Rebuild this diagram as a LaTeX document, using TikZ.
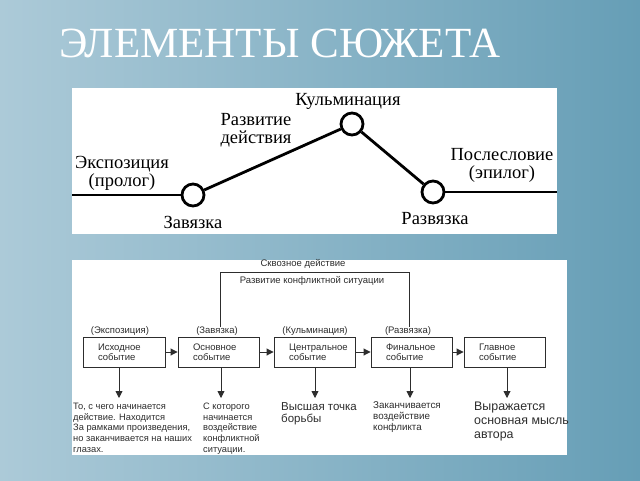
\documentclass[tikz,border=0pt]{standalone}
\usepackage{fontspec}
\setmainfont{Liberation Serif}
\newfontfamily\arialf{Liberation Sans}
\usetikzlibrary{arrows.meta}
\definecolor{bgL}{RGB}{172,202,216}
\definecolor{bgR}{RGB}{102,158,182}
\definecolor{ink}{RGB}{45,45,45}
\begin{document}
\begin{tikzpicture}[x=1pt,y=-1pt,
  plotline/.style={line width=2.8pt,black},
  knot/.style={circle,draw=black,fill=white,line width=2.8pt,minimum size=22pt,inner sep=0pt},
  toplbl/.style={font=\fontsize{18.5}{18}\selectfont,inner sep=0pt,align=center},
  evbox/.style={draw=ink,line width=0.9pt,minimum height=30pt,inner sep=0pt,text=ink,
     font=\arialf\fontsize{9.5}{10}\selectfont,align=left},
  small/.style={text=ink,font=\arialf\fontsize{9.5}{10}\selectfont,inner sep=0pt},
  conn/.style={draw=ink,line width=0.9pt},
  arr/.style={conn,-{Triangle[length=7pt,width=7pt]}},
  desc/.style={text=ink,inner sep=0pt,anchor=north west,align=left}
]
\useasboundingbox (0,0) rectangle (640,480);
\shade[left color=bgL,right color=bgR] (0,0) rectangle (640,480);
\node[text=white,anchor=base west,inner sep=0pt,font=\fontsize{43}{43}\selectfont] (title) at (59,57) {ЭЛЕМЕНТЫ СЮЖЕТА};

% ---------- top panel
\fill[white] (72,88) rectangle (557,234);
\node[knot] (zav) at (193,195) {};
\node[knot] (kul) at (352,124) {};
\node[knot] (raz) at (433,192) {};
\coordinate (pl) at (72,195);
\coordinate (pr) at (557,192);
\draw[plotline] (pl) -- (zav);
\draw[plotline] (zav) -- (kul);
\draw[plotline] (kul) -- (raz);
\draw[plotline] (raz) -- (pr);
\node[toplbl] (lexp) at (122,173) {Экспозиция\\(пролог)};
\node[toplbl] (lrazv) at (256,130) {Развитие\\действия};
\node[toplbl] (lkul) at (348,101) {Кульминация};
\node[toplbl] (lzav) at (193,222) {Завязка};
\node[toplbl] (lraz) at (435,219) {Развязка};
\node[toplbl] (lpos) at (502,165) {Послесловие\\(эпилог)};

% ---------- bottom panel
\fill[white] (72,260) rectangle (567,455);
\node[evbox,minimum width=82pt,text width=52pt] (b1) at (124,352) {Исходное\\событие};
\node[evbox,minimum width=81pt,text width=51pt] (b2) at (218.5,352) {Основное\\событие};
\node[evbox,minimum width=81pt,text width=51pt] (b3) at (314.5,352) {Центральное\\событие};
\node[evbox,minimum width=81pt,text width=51pt] (b4) at (411.5,352) {Финальное\\событие};
\node[evbox,minimum width=81pt,text width=51pt] (b5) at (504.5,352) {Главное\\событие};
\draw[arr] (b1) -- (b2);
\draw[arr] (b2) -- (b3);
\draw[arr] (b3) -- (b4);
\draw[arr] (b4) -- (b5);

\node[small] (e1) at (120,331) {(Экспозиция)};
\node[small] (e2) at (217,331) {(Завязка)};
\node[small] (e3) at (315,331) {(Кульминация)};
\node[small] (e4) at (408,331) {(Развязка)};

\coordinate (c1) at (220,327);
\coordinate (c2) at (220,272);
\coordinate (c3) at (409,272);
\coordinate (c4) at (409,327);
\draw[conn] (c1) -- (c2) -- (c3) -- (c4);
\node[small] (skv) at (303,264) {Сквозное действие};
\node[small] (razk) at (312,281) {Развитие конфликтной ситуации};

\coordinate (d1) at (119,398);
\coordinate (d2) at (221,398);
\coordinate (d3) at (315,398);
\coordinate (d4) at (410,398);
\coordinate (d5) at (507,398);
\draw[arr] (b1.south -| d1) -- (d1);
\draw[arr] (b2.south -| d2) -- (d2);
\draw[arr] (b3.south -| d3) -- (d3);
\draw[arr] (b4.south -| d4) -- (d4);
\draw[arr] (b5.south -| d5) -- (d5);

\node[desc,font=\arialf\fontsize{9.3}{10.6}\selectfont] (t1) at (73,403) {То, с чего начинается\\действие. Находится\\За рамками произведения,\\но заканчивается на наших\\глазах.};
\node[desc,font=\arialf\fontsize{9.3}{10.6}\selectfont] (t2) at (203,403) {С которого\\начинается\\воздействие\\конфликтной\\ситуации.};
\node[desc,font=\arialf\fontsize{11.5}{12}\selectfont] (t3) at (281,402) {Высшая точка\\борьбы};
\node[desc,font=\arialf\fontsize{9.8}{11}\selectfont] (t4) at (373,401) {Заканчивается\\воздействие\\конфликта};
\node[desc,font=\arialf\fontsize{12.4}{14}\selectfont] (t5) at (474,402) {Выражается\\основная мысль\\автора};
\end{tikzpicture}
\end{document}
